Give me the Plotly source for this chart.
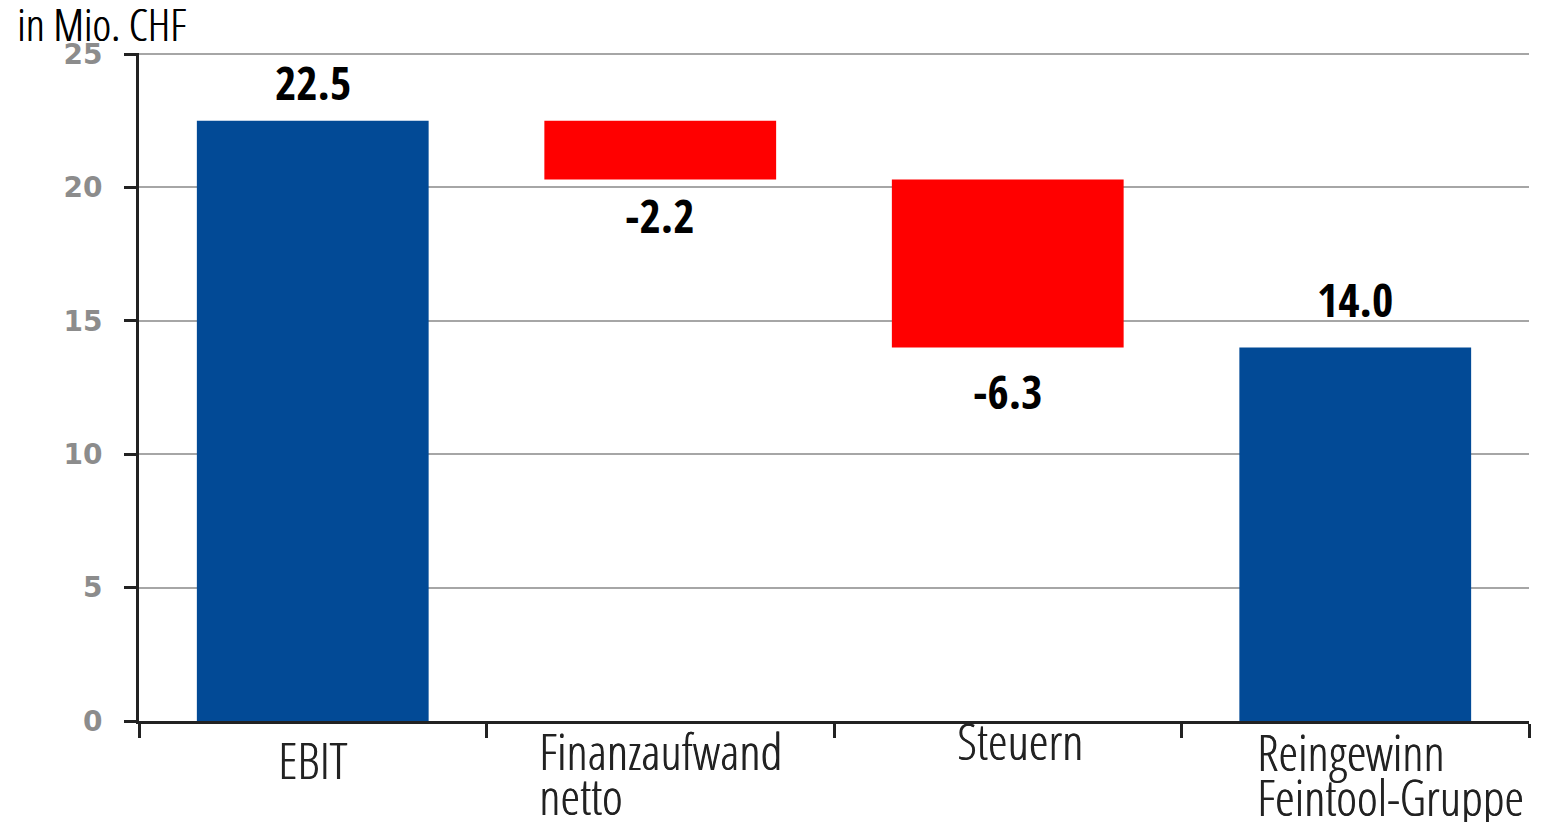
import plotly.graph_objects as go

# ---- data ----
categories = ["EBIT", "Finanzaufwand\nnetto", "Steuern", "Reingewinn\nFeintool-Gruppe"]
measures = ["absolute", "relative", "relative", "total"]
values = [22.5, -2.2, -6.3, 0]
y_ticks = [0, 5, 10, 15, 20, 25]
unit_label = "in Mio. CHF"

# running sums -> bar ends and labels
running = 0.0
labels, ends, signs = [], [], []
for m, v in zip(measures, values):
    if m == "absolute":
        running = v
        labels.append(f"{v:.1f}"); signs.append(1)
    elif m == "relative":
        running += v
        labels.append(f"{v:.1f}"); signs.append(1 if v >= 0 else -1)
    else:
        labels.append(f"{running:.1f}"); signs.append(1)
    ends.append(running)

BLUE = "#024A96"
RED = "#FF0000"
DARK = "#222222"
CAT_FONT = "Open Sans Condensed Light"
VAL_FONT = "Open Sans Condensed"
TITLE_FONT = "Open Sans Condensed Light"

x_ids = [c.replace("\n", " ") for c in categories]

fig = go.Figure(go.Waterfall(
    x=x_ids,
    y=values,
    measure=measures,
    totals=dict(marker=dict(color=BLUE)),
    increasing=dict(marker=dict(color=BLUE)),
    decreasing=dict(marker=dict(color=RED)),
    connector=dict(visible=False),
    hoverinfo="skip",
))

annotations = []
val_shift = [6, -3, -10, 16]
for cid, lab, end, sg, sh in zip(x_ids, labels, ends, signs, val_shift):
    annotations.append(dict(
        x=cid, y=end, xref="x", yref="y", text=lab, showarrow=False,
        xanchor="center", yanchor="bottom" if sg > 0 else "top",
        yshift=sh,
        font=dict(family=VAL_FONT, size=46, color="#000000"),
    ))

label_style = [
    dict(anchor="center", dx=0, dy=-3),
    dict(anchor="left", dx=-123, dy=6),
    dict(anchor="center", dx=12, dy=16),
    dict(anchor="left", dx=-100, dy=5),
]
LINE_STEP = 45
for cid, cat, st in zip(x_ids, categories, label_style):
    for i, line in enumerate(cat.split("\n")):
        annotations.append(dict(
            x=cid, y=0, xref="x", yref="y",
            text=line, showarrow=False,
            xanchor=st["anchor"], yanchor="top",
            xshift=st["dx"], yshift=st["dy"] - LINE_STEP * i,
            font=dict(family=CAT_FONT, size=50, color=DARK,
                      shadow="0.6px 0 0 #222222"),
        ))

annotations.append(dict(
    x=0, y=1, xref="paper", yref="paper",
    text=unit_label, showarrow=False,
    xanchor="left", yanchor="bottom",
    xshift=-124, yshift=-3,
    font=dict(family=TITLE_FONT, size=45, color="#000000",
              shadow="0.6px 0 0 #000000"),
))

fig.update_layout(
    width=1544, height=822,
    margin=dict(l=139, r=15, t=53, b=101),
    plot_bgcolor="white", paper_bgcolor="white",
    waterfallgap=0.333,
    showlegend=False,
    annotations=annotations,
    xaxis=dict(
        type="category", range=[-0.5, 3.5],
        showline=True, linecolor=DARK, linewidth=3,
        ticks="outside", tickson="boundaries", ticklen=14, tickwidth=3, tickcolor=DARK,
        showticklabels=False, showgrid=False, zeroline=False,
    ),
    yaxis=dict(
        range=[0, 25.04], tickvals=y_ticks,
        showline=True, linecolor=DARK, linewidth=3,
        ticks="outside", ticklen=12, tickwidth=3, tickcolor=DARK,
        ticklabelstandoff=16,
        tickfont=dict(family="DejaVu Sans", size=28, color="#8C8C8C", weight="bold"),
        showgrid=True, gridcolor="#A6A6A6", gridwidth=1.5,
        zeroline=False,
    ),
)

fig.write_html("out.html", config={"displayModeBar": False},
               post_script="document.body.style.margin='0';document.body.style.overflow='hidden';")
